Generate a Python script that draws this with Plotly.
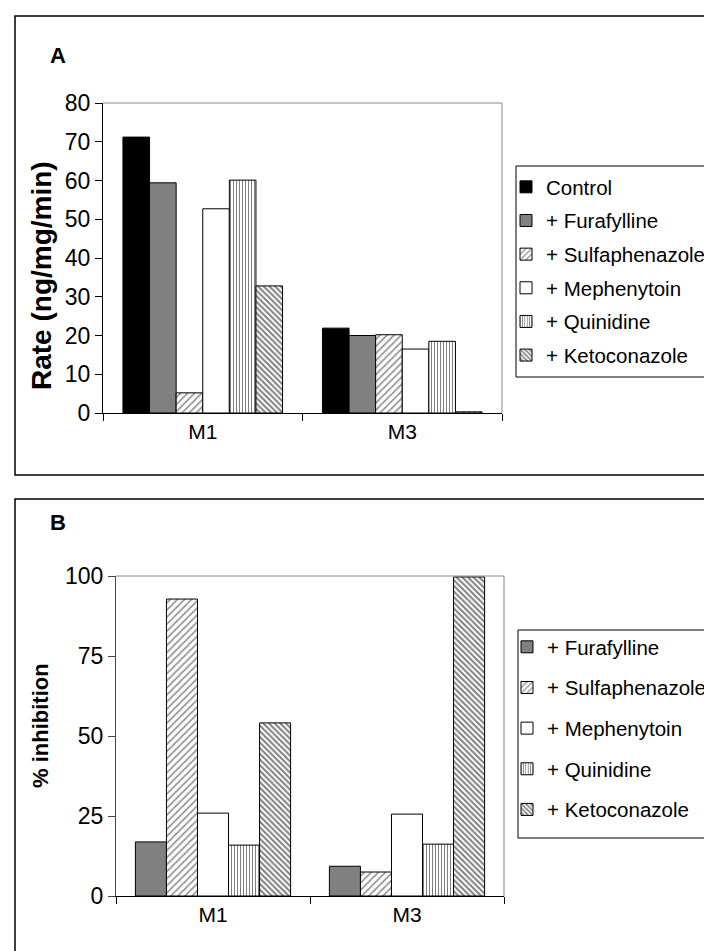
import plotly.graph_objects as go

W, H = 712, 951

categories = ["M1", "M3"]

# Panel A: rate (ng/mg/min)
a_series = ["Control", "+ Furafylline", "+ Sulfaphenazole", "+ Mephenytoin", "+ Quinidine", "+ Ketoconazole"]
a_control = [71.2, 21.9]
a_furafylline = [59.4, 20.0]
a_sulfaphenazole = [5.2, 20.2]
a_mephenytoin = [52.7, 16.5]
a_quinidine = [60.1, 18.5]
a_ketoconazole = [32.8, 0.3]
a_ticks = [0, 10, 20, 30, 40, 50, 60, 70, 80]

# Panel B: % inhibition
b_series = ["+ Furafylline", "+ Sulfaphenazole", "+ Mephenytoin", "+ Quinidine", "+ Ketoconazole"]
b_furafylline = [16.9, 9.3]
b_sulfaphenazole = [92.8, 7.5]
b_mephenytoin = [25.9, 25.6]
b_quinidine = [15.9, 16.2]
b_ketoconazole = [54.1, 99.7]
b_ticks = [0, 25, 50, 75, 100]

FONT = "Liberation Sans, Arial, sans-serif"

styles = {
    "Control": dict(color="black", pattern=None),
    "+ Furafylline": dict(color="#808080", pattern=None),
    "+ Sulfaphenazole": dict(color="white", pattern=dict(shape="/", size=5, solidity=0.35, fgcolor="#333333", bgcolor="white")),
    "+ Mephenytoin": dict(color="white", pattern=None),
    "+ Quinidine": dict(color="white", pattern=dict(shape="|", size=3, solidity=0.35, fgcolor="black", bgcolor="white")),
    "+ Ketoconazole": dict(color="white", pattern=dict(shape="\\", size=4, solidity=0.5, fgcolor="black", bgcolor="white")),
}

fig = go.Figure()

def add_bar(name, vals, xaxis, yaxis, legend):
    st = styles[name]
    marker = dict(color=st["color"], line=dict(color="black", width=1))
    if st["pattern"]:
        marker["pattern"] = st["pattern"]
    fig.add_trace(go.Bar(
        x=categories, y=vals, name=name, marker=marker,
        xaxis=xaxis, yaxis=yaxis, legend=legend, legendgroup=legend + name,
        hoverinfo="skip",
    ))

for name, vals in zip(a_series, [a_control, a_furafylline, a_sulfaphenazole, a_mephenytoin, a_quinidine, a_ketoconazole]):
    add_bar(name, vals, "x", "y", "legend")
for name, vals in zip(b_series, [b_furafylline, b_sulfaphenazole, b_mephenytoin, b_quinidine, b_ketoconazole]):
    add_bar(name, vals, "x2", "y2", "legend2")

def px_x(p):
    return p / W

def px_y(p):
    return 1 - p / H

A_dom_x = [px_x(95), px_x(494)]
A_dom_y = [px_y(405), px_y(95)]
B_dom_x = [px_x(108), px_x(496)]
B_dom_y = [px_y(888), px_y(568)]

tickfontA = dict(family=FONT, size=23, color="black")
tickfontB = dict(family=FONT, size=23, color="black")
LEG = 20.5

fig.update_layout(
    width=W, height=H,
    margin=dict(l=0, r=0, t=0, b=0, autoexpand=False),
    paper_bgcolor="white", plot_bgcolor="white",
    barmode="group", bargap=0.2, bargroupgap=0,
    font=dict(family=FONT, size=LEG, color="black"),
    xaxis=dict(domain=A_dom_x, anchor="y", type="category", tickson="boundaries",
               ticks="outside", ticklen=7, tickcolor="black", showline=True, linecolor="black",
               linewidth=1, showgrid=False, tickfont=dict(family=FONT, size=21, color="black"),
               fixedrange=True),
    yaxis=dict(domain=A_dom_y, anchor="x", range=[0, 80], tickvals=a_ticks,
               ticks="outside", ticklen=7, tickcolor="black", showline=True, linecolor="black",
               linewidth=1, showgrid=False, zeroline=False, tickfont=tickfontA, fixedrange=True),
    xaxis2=dict(domain=B_dom_x, anchor="y2", type="category", tickson="boundaries",
                ticks="outside", ticklen=7, tickcolor="black", showline=True, linecolor="black",
                linewidth=1, showgrid=False, tickfont=dict(family=FONT, size=21, color="black"),
                fixedrange=True),
    yaxis2=dict(domain=B_dom_y, anchor="x2", range=[0, 100], tickvals=b_ticks,
                ticks="outside", ticklen=7, tickcolor="#444444", showline=True, linecolor="#444444",
                linewidth=1, showgrid=False, zeroline=False, tickfont=tickfontB, fixedrange=True),
    legend=dict(x=px_x(498), y=px_y(159), xanchor="left", yanchor="top",
                borderwidth=0, bgcolor="rgba(0,0,0,0)",
                font=dict(family=FONT, size=LEG, color="black"),
                traceorder="grouped", tracegroupgap=4, itemclick=False, itemdoubleclick=False),
    legend2=dict(x=px_x(499), y=px_y(619), xanchor="left", yanchor="top",
                 borderwidth=0, bgcolor="rgba(0,0,0,0)",
                 font=dict(family=FONT, size=LEG, color="black"),
                 traceorder="grouped", tracegroupgap=11, itemclick=False, itemdoubleclick=False),
    showlegend=True,
)

shapes = []
# outer panel boxes
shapes.append(dict(type="rect", xref="paper", yref="paper", x0=px_x(7), x1=px_x(730),
                   y0=px_y(467), y1=px_y(8), line=dict(color="black", width=1.5), layer="below"))
shapes.append(dict(type="rect", xref="paper", yref="paper", x0=px_x(7), x1=px_x(730),
                   y0=px_y(970), y1=px_y(491), line=dict(color="black", width=1.5), layer="below"))
# legend boxes
shapes.append(dict(type="rect", xref="paper", yref="paper", x0=px_x(508), x1=px_x(730),
                   y0=px_y(369), y1=px_y(158), line=dict(color="black", width=1), layer="below"))
shapes.append(dict(type="rect", xref="paper", yref="paper", x0=px_x(510), x1=px_x(730),
                   y0=px_y(830), y1=px_y(622), line=dict(color="black", width=1), layer="below"))
# plot-area top/right gray borders
for xd, yd in [("x domain", "y domain"), ("x2 domain", "y2 domain")]:
    shapes.append(dict(type="line", xref=xd, yref=yd, x0=0, x1=1, y0=1, y1=1,
                       line=dict(color="#888888", width=1)))
    shapes.append(dict(type="line", xref=xd, yref=yd, x0=1, x1=1, y0=0, y1=1,
                       line=dict(color="#888888", width=1)))
fig.update_layout(shapes=shapes)

annotations = [
    dict(text="<b>A</b>", x=px_x(40), y=px_y(47), xref="paper", yref="paper",
         xanchor="left", yanchor="middle", showarrow=False, font=dict(family=FONT, size=22, color="black")),
    dict(text="<b>B</b>", x=px_x(40), y=px_y(514), xref="paper", yref="paper",
         xanchor="left", yanchor="middle", showarrow=False, font=dict(family=FONT, size=22, color="black")),
    dict(text="<b>Rate (ng/mg/min)</b>", x=px_x(33), y=px_y(268),
         xref="paper", yref="paper", xanchor="center", yanchor="middle", textangle=-90,
         showarrow=False, font=dict(family=FONT, size=28, color="black")),
    dict(text="<b>% inhibition</b>", x=px_x(32), y=px_y(718),
         xref="paper", yref="paper", xanchor="center", yanchor="middle", textangle=-90,
         showarrow=False, font=dict(family=FONT, size=22, color="black")),
]
fig.update_layout(annotations=annotations)

fig.write_html("out.html")
